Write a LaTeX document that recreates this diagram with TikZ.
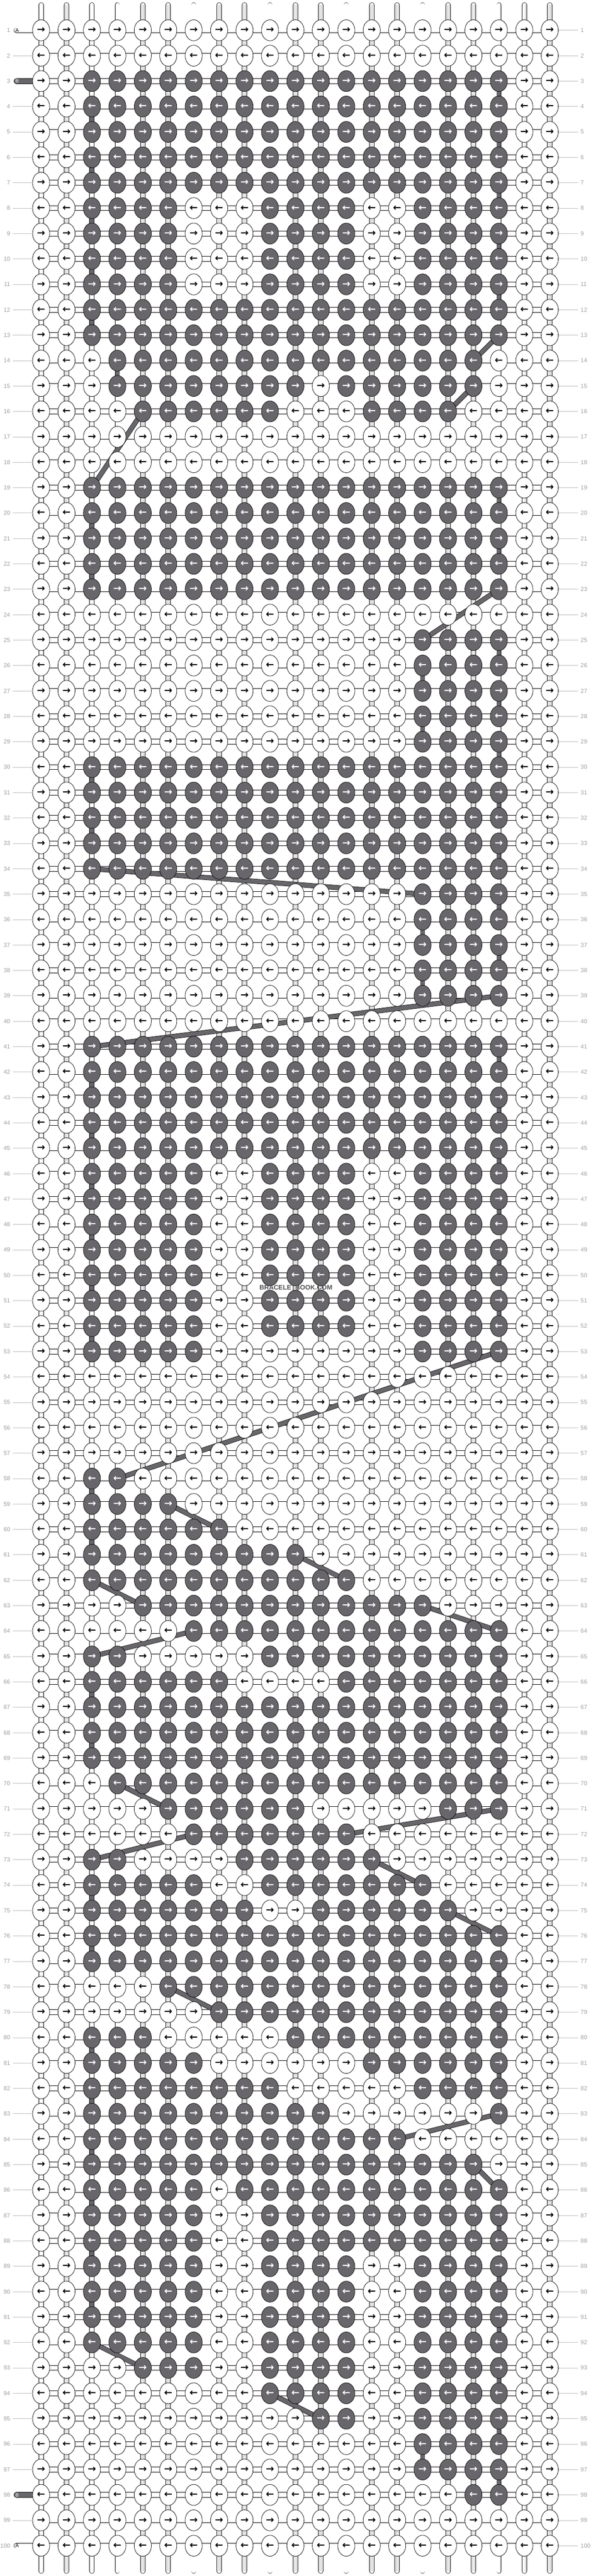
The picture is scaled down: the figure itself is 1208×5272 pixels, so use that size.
\documentclass[tikz,border=0pt]{standalone}
\usepackage{fontspec}
\setmainfont{Liberation Sans}
\newfontfamily\arrowfont{DejaVu Sans}
\usepackage{tikz}
\usetikzlibrary{shapes.geometric}
\definecolor{dark}{HTML}{68666A}
\definecolor{numgray}{HTML}{9E9E9E}
\definecolor{linegray}{HTML}{BBBBBB}
\definecolor{markgray}{HTML}{505050}
\pgfdeclarelayer{back}
\pgfsetlayers{back,main}

\begin{document}
\begin{tikzpicture}[x = 1pt, y = -1pt,
  knot/.style = {ellipse, draw, line width = .8pt, minimum width = 35pt, minimum height = 43pt, inner sep = 0pt, font = \arrowfont\bfseries\fontsize{20}{20}\selectfont},
  warp/.style = {line width = .8pt, double = white, double distance = 8.6pt, line cap = round},
  warpcore/.style = {draw = linegray, line width = .6pt, double = white, double distance = 2.6pt},
  weft/.style = {line width = .8pt, double = white, double distance = 9.4pt},
  bturn/.style = {line width = .8pt, double = dark, double distance = 8.6pt},
  bskip/.style = {line width = .8pt, double = dark, double distance = 8.4pt},
  pillw/.style = {line width = .8pt, double = white, double distance = 9.4pt, line cap = round},
  pillb/.style = {line width = .8pt, double = dark, double distance = 9.4pt, line cap = round},
  tagtext/.style = {inner sep = 0pt, font = \fontsize{10.5}{10.5}\selectfont},
  num/.style = {inner sep = 0pt, text = numgray, font = \fontsize{12}{12}\selectfont},
  rowline/.style = {draw = linegray, line width = .8pt},
  wmark/.style = {inner sep = 0pt, text = markgray, font = \bfseries\fontsize{13.5}{13.5}\selectfont}]
  \useasboundingbox (0, 0) rectangle (1208, 5272);
  % dark knots: first row/last row/first col/last col
  \foreach \ra/\rb/\ca/\cb in {3/7/3/19, 8/11/3/6, 8/11/10/13, 8/11/16/19, 12/13/3/19,
    14/14/4/18, 15/15/4/11, 15/15/13/18, 16/16/5/10, 16/16/14/17, 19/23/3/19,
    25/29/16/19, 30/34/3/19, 35/39/16/19, 41/45/3/19, 46/52/3/7, 46/52/10/13,
    46/53/16/19, 53/53/3/7, 58/58/3/4, 59/59/3/6, 60/60/3/8, 61/61/3/11, 62/62/3/13,
    63/63/5/16, 64/64/7/19, 65/65/3/4, 65/65/10/19, 66/66/3/8, 66/66/13/19, 67/69/3/19,
    70/70/4/19, 71/71/6/11, 71/71/17/19, 72/72/7/13, 73/73/3/4, 73/73/9/14, 74/74/3/7,
    74/74/10/16, 75/75/3/9, 75/75/12/17, 76/77/3/19, 78/78/6/19, 79/79/8/19, 80/80/3/5,
    80/80/11/19, 81/81/3/7, 81/81/14/19, 82/82/3/10, 82/82/16/19, 83/83/3/12,
    83/83/19/19, 84/84/3/15, 85/85/3/18, 86/86/3/7, 86/86/9/19, 87/88/3/7, 87/88/10/19,
    89/92/3/7, 89/94/10/13, 89/97/16/19, 93/93/5/7, 95/95/12/13, 98/98/18/19}
  {
  \foreach \r in {\ra, ..., \rb}
  {
  \foreach \c in {\ca, ..., \cb}
  {
  \expandafter\gdef\csname dk-\r-\c\endcsname{}
  }
  }
  }
  % knots
  \foreach \r in {1, ..., 100}
  {
  \foreach \c in {1, ..., 21}
  {
  \ifcsname dk-\r-\c\endcsname \def\kfill{dark}\def\ktext{white}\else \def\kfill{white}\def\ktext{black}\fi
  \node[knot, fill = \kfill, text = \ktext] at ({32 + 52*\c}, {10 + 52*\r}) (k-\r-\c) {\ifodd\r →\else ←\fi};
  }
  }
  \foreach \c in {1, ..., 21}
  {
  \coordinate (top-\c) at ({32 + 52*\c}, 10);
  \coordinate (bot-\c) at ({32 + 52*\c}, 5262);
  }
  \foreach \r in {1, 3, 98, 100}
  {
  \coordinate (pill-\r) at (33.5, {10 + 52*\r});
  }
  \begin{pgfonlayer}{back}
  \foreach \c in {1, ..., 21}
  {
  \draw[warp] (top-\c) -- (bot-\c);
  \draw[warpcore] (top-\c) -- (bot-\c);
  }
  \foreach \r in {1, ..., 100}
  {
  \draw[weft] (k-\r-1.center) -- (k-\r-21.center);
  }
  \draw[pillw] (pill-1) -- (k-1-1.center);
  \draw[pillw] (pill-100) -- (k-100-1.center);
  \draw[pillb] (pill-3) -- (k-3-1.center);
  \draw[pillb] (pill-98) -- (k-98-1.center);
  % B string going down at the row ends: row/col
  \foreach \r/\c [evaluate = \r as \rn using int(\r + 1)] in {3/19, 4/3, 5/19, 6/3,
    7/19, 8/3, 9/19, 10/3, 11/19, 12/3, 14/4, 19/19, 20/3, 21/19, 22/3, 25/19, 26/16,
    27/19, 28/16, 29/19, 30/3, 31/19, 32/3, 33/19, 35/19, 36/16, 37/19, 38/16, 41/19,
    42/3, 43/19, 44/3, 45/19, 46/3, 47/19, 48/3, 49/19, 50/3, 51/19, 52/3, 58/3, 60/3,
    65/19, 66/3, 67/19, 68/3, 69/19, 74/3, 76/3, 77/19, 79/19, 80/3, 81/19, 82/3, 84/3,
    86/3, 87/19, 88/3, 89/19, 90/3, 91/19, 93/19, 95/19, 96/16, 97/19}
  {
  \draw[bturn] (k-\r-\c.center) -- (k-\rn-\c.center);
  }
  % B string carried across
  \foreach \ra/\ca/\rb/\cb in {13/19/14/18, 15/18/16/17, 16/5/19/3, 23/19/25/16,
    34/3/35/16, 39/19/41/3, 53/19/58/4, 59/6/60/8, 61/11/62/13, 62/3/63/5, 63/16/64/19,
    64/7/65/3, 70/4/71/6, 71/19/72/13, 72/7/73/3, 73/14/74/16, 75/17/76/19, 78/6/79/8,
    83/19/84/15, 85/18/86/19, 92/3/93/5, 94/10/95/12}
  {
  \draw[bskip] (k-\ra-\ca.center) -- (k-\rb-\cb.center);
  }
  \end{pgfonlayer}
  % labels
  \node[tagtext] at (35, 62) (tag-1) {A};
  \node[tagtext, text = white] at (35, 166) (tag-3) {B};
  \node[tagtext, text = white] at (35, 5106) (tag-98) {B};
  \node[tagtext] at (35, 5210) (tag-100) {A};
  \foreach \r in {1, ..., 100}
  {
  \node[num, anchor = east] at (21, {10 + 52*\r}) (ln-\r) {\r};
  \node[num, anchor = west] at (1187, {10 + 52*\r}) (rn-\r) {\r};
  \draw[rowline] (k-\r-21) -- ([xshift = -5pt]rn-\r.west);
  }
  \foreach \r in {2, 4, 5, ..., 97, 99}
  {
  \draw[rowline] ([xshift = 5pt]ln-\r.east) -- (k-\r-1);
  }
  \node[wmark] at (605, 2635) (wm) {BRACELETBOOK.COM};
\end{tikzpicture}
\end{document}
